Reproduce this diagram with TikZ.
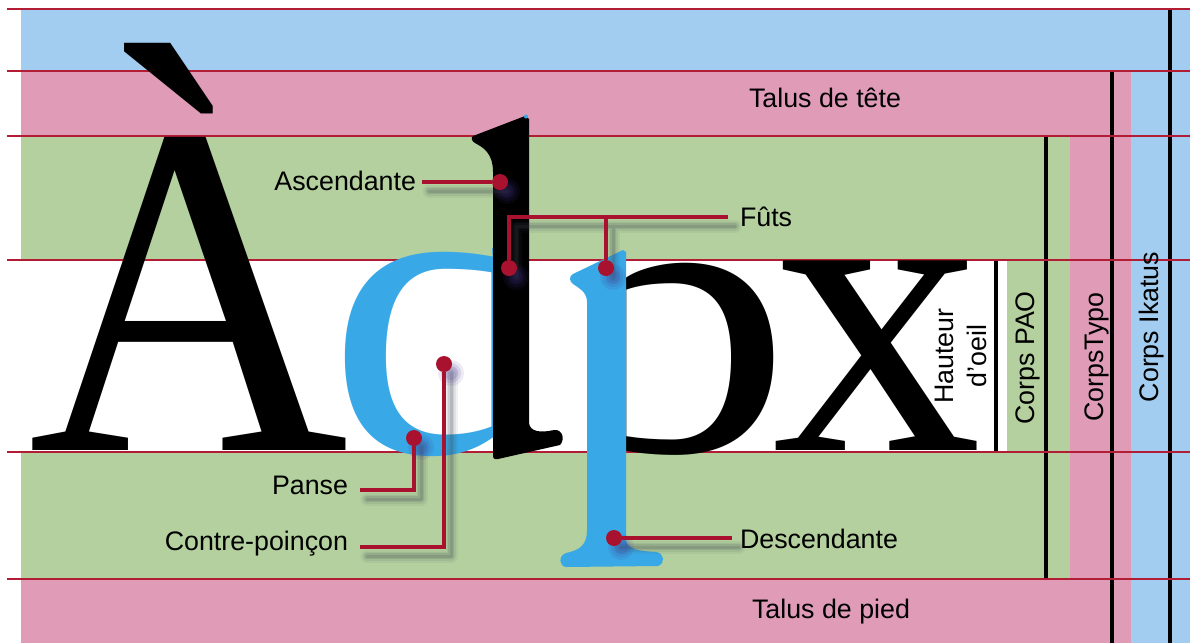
\documentclass[tikz,border=0pt]{standalone}
\usepackage{fontspec}
\usepackage{graphicx}
\setmainfont{Liberation Sans}
\newfontfamily\gfont{Liberation Serif}
\definecolor{bandblue}{RGB}{162,205,240}
\definecolor{bandpink}{RGB}{224,155,182}
\definecolor{bandgreen}{RGB}{180,208,158}
\definecolor{rulered}{RGB}{178,28,52}
\definecolor{leadred}{RGB}{168,18,46}
\definecolor{glyphblue}{RGB}{56,168,230}
\definecolor{shadowgray}{RGB}{60,70,80}
\definecolor{glow}{RGB}{70,50,140}
\begin{document}
\begin{tikzpicture}[x=1pt,y=-1pt,
  hrule/.style={draw=rulered,line width=2pt},
  vbar/.style={draw=black,line width=3.5pt},
  lbl/.style={font=\fontsize{26.8}{31}\selectfont,inner sep=0pt,outer sep=0pt},
  glyph/.style={inner sep=0pt,outer sep=0pt,anchor=base west},
  leader/.style={draw=leadred,line width=4pt},
  dot/.style={circle,fill=leadred,inner sep=0pt,outer sep=0pt,minimum size=16pt},
  shade/.style={draw=shadowgray,line cap=round,line join=round}]
\useasboundingbox (0,0) rectangle (1190,643);
% bands
\fill[bandblue] (21,8) rectangle (1190,70);
\fill[bandpink] (21,70) rectangle (1131,135);
\fill[bandgreen] (21,135) rectangle (1070,579);
\fill[white] (0,260) rectangle (1007,452);
\fill[bandpink] (1070,135) rectangle (1131,579);
\fill[bandblue] (1131,70) rectangle (1190,643);
\fill[bandpink] (21,579) rectangle (1131,643);
% vertical bars
\draw[vbar] (996,260) -- (996,452);
\draw[vbar] (1046,135) -- (1046,579);
\draw[vbar] (1112,70) -- (1112,643);
\draw[vbar] (1170,8) -- (1170,643);
% red rules
\foreach \y in {8.5,70.5,135.5,260,452,579} \draw[hrule] (7,\y) -- (1190,\y);
% glyph A
\node[glyph] (gA) at (28.8,450) {\scalebox{0.936}[1]{\gfont\fontsize{474.4}{474.4}\selectfont À}};
% glyph d : blue bowl (glyph) + black stem
\begin{scope}
  \clip (300,248) rectangle (493,643);
  \node[glyph,text=glyphblue] (gd) at (328.7,452) {\scalebox{1.098}[1]{\gfont\fontsize{425}{425}\selectfont d}};
\end{scope}
\fill[black] (473,136) -- (525,116) -- (529,119) -- (529,423)
  .. controls (530,432) and (541,433) .. (554,430)
  .. controls (563,429) and (565,440) .. (560,445)
  -- (498,459) .. controls (494,460) and (493,458) .. (493,455)
  -- (493,172) .. controls (493,152) and (482,147) .. (475,143)
  .. controls (471,141) and (471,137) .. (473,136) -- cycle;
\fill[glyphblue] (526,116.5) circle (2pt);
% glyph p : black bowl (glyph) + blue stem
\begin{scope}
  \clip (625,200) rectangle (800,457);
  \node[glyph,text=black] (gp) at (552,451) {\scalebox{1.201}[1]{\gfont\fontsize{399.6}{399.6}\selectfont p}};
\end{scope}
\fill[glyphblue] (623,250) -- (626,252) -- (626,540)
  .. controls (628,550) and (640,551) .. (656,552)
  .. controls (664,553) and (666,563) .. (658,566)
  -- (566,567) .. controls (559,566) and (558,556) .. (566,553)
  .. controls (580,550) and (587,545) .. (587,530)
  -- (587,302) .. controls (587,292) and (579,288) .. (573,284)
  .. controls (569,281) and (569,276) .. (573,274) -- cycle;
% glyph x
\node[glyph] (gx) at (772.4,450) {\scalebox{1.0145}[1]{\gfont\fontsize{413.3}{413.3}\selectfont x}};
% labels
\node[lbl,anchor=base] (tTete) at (825,107) {Talus de tête};
\node[lbl,anchor=base] (tPied) at (831,618) {Talus de pied};
\node[lbl,anchor=base west] (tFuts) at (740,226) {Fûts};
\node[lbl,anchor=base east] (tAsc) at (416,190) {Ascendante};
\node[lbl,anchor=base east] (tPan) at (348,494) {Panse};
\node[lbl,anchor=base east] (tCP) at (348,550) {Contre-poinçon};
\node[lbl,anchor=base west] (tDes) at (740,548) {Descendante};
\node[lbl,rotate=90,align=center,font=\fontsize{26.8}{33}\selectfont] (tHO) at (961,356) {Hauteur\\d’oeil};
\node[lbl,rotate=90] (tPAO) at (1028,358) {Corps PAO};
\node[lbl,rotate=90] (tTypo) at (1097,357) {CorpsTypo};
\node[lbl,rotate=90] (tIka) at (1152,327) {Corps Ikatus};
% leader geometry
\coordinate (cAsc) at (500,182);
\coordinate (cF1) at (509,268);
\coordinate (cF2) at (606,268);
\coordinate (cPan) at (414,438);
\coordinate (cCP) at (444,364);
\coordinate (cDes) at (614,538);
\coordinate (eAsc) at (422,182);
\coordinate (jF1) at (509,217);
\coordinate (jF2) at (606,217);
\coordinate (eF) at (728,217);
\coordinate (kPan) at (414,490);
\coordinate (ePan) at (360,490);
\coordinate (kCP) at (444,547);
\coordinate (eCP) at (360,547);
\coordinate (eDes) at (732,538);
% shadows
\begin{scope}[transform canvas={shift={(7,9)}}]
  \foreach \w/\o in {13/0.07,9/0.09,6/0.12,3/0.16}{
    \draw[shade,line width=\w pt,opacity=\o] (cAsc) -- (eAsc);
    \draw[shade,line width=\w pt,opacity=\o] (cF1) -- (jF1) -- (eF) (cF2) -- (jF2);
    \draw[shade,line width=\w pt,opacity=\o] (cPan) -- (kPan) -- (ePan);
    \draw[shade,line width=\w pt,opacity=\o] (cCP) -- (kCP) -- (eCP);
    \draw[shade,line width=\w pt,opacity=\o] (cDes) -- (eDes);
  }
  \foreach \r/\o in {13/0.10,10/0.12,7/0.15}{
    \fill[glow,opacity=\o] (cAsc) circle (\r pt) (cF1) circle (\r pt) (cF2) circle (\r pt)
      (cPan) circle (\r pt) (cCP) circle (\r pt) (cDes) circle (\r pt);
  }
\end{scope}
% dots
\node[dot] (pAsc) at (cAsc) {};
\node[dot] (pF1) at (cF1) {};
\node[dot] (pF2) at (cF2) {};
\node[dot] (pPan) at (cPan) {};
\node[dot] (pCP) at (cCP) {};
\node[dot] (pDes) at (cDes) {};
% leaders
\draw[leader] (pAsc) -- (eAsc);
\draw[leader] (pF1) -- (jF1) -- (eF);
\draw[leader] (pF2) -- (jF2);
\draw[leader] (pPan) -- (kPan) -- (ePan);
\draw[leader] (pCP) -- (kCP) -- (eCP);
\draw[leader] (pDes) -- (eDes);
\end{tikzpicture}
\end{document}
